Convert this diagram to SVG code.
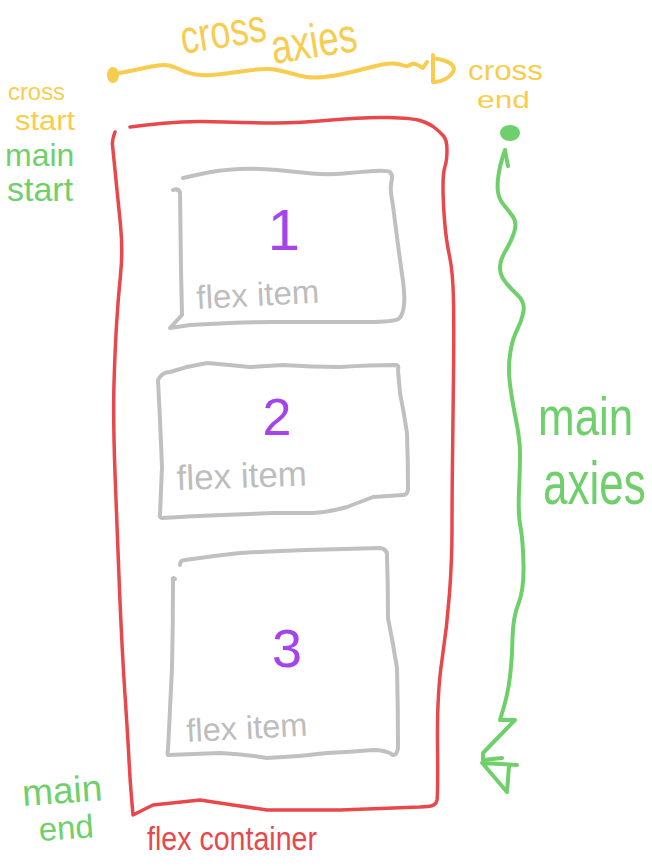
<svg xmlns="http://www.w3.org/2000/svg" width="652" height="866" viewBox="0 0 652 866">
<style>
.stroke{fill:none;stroke-linecap:round;stroke-linejoin:round}
.red{stroke:#e8484c;stroke-width:3.5}
.gray{stroke:#c0c0c0;stroke-width:4}
.green{stroke:#6fd06b;stroke-width:4}
.yellow{stroke:#f8cd4f;stroke-width:4}
text{font-family:"Liberation Sans","DejaVu Sans",sans-serif}
.ty{fill:#f8cd4f}
.tg{fill:#6fd06b}
.tr{fill:#e8484c}
.tgr{fill:#bdbdbd}
.tp{fill:#a544ec;text-anchor:middle}
</style>
<rect width="652" height="866" fill="#ffffff"/>

<g id="container">
<path class="stroke red" d="M130,127 L146.5,125 Q163,123 181.5,122 Q200,121 225,122 Q250,123 275,123 Q300,123 331.5,120 Q363,117 388,117.5 Q413,118 421.5,121 Q430,124 435,128 Q440,132 443.5,136 Q447,140 447,150 Q447,160 445,166.5 Q443,173 443,186.5 Q443,200 444.5,220 Q446,240 449.5,256 Q453,272 453.5,301 Q454,330 453.5,375 Q453,420 452.5,460 Q452,500 452,530 Q452,560 449.5,593.5 Q447,627 442,660 Q437,693 437.5,743 Q438,793 437,800 Q436,806 428,806.5 L420,807 Q380,808.5 340,810 L267,810 Q250,807.5 233,805 Q216.5,802.5 200,800 Q176.5,802.5 153,805 L133,815 L131.5,797.5 Q130,780 129,760 Q128,740 125,695 Q122,650 119.5,590 Q117,530 115,473.5 Q113,417 114,383.5 Q115,350 116.5,325 Q118,300 120.5,275 Q123,250 120.5,225 Q118,200 115.5,175 Q113,150 112.5,145 Q112,140 115,132"/>
<text class="tr" transform="translate(147,850) scale(1,1.15)" font-size="28.6">flex container</text>
</g>

<g id="item1">
<path class="stroke gray" d="M183,178 L194,175.5 Q205,173 214,171.5 Q223,170 240,169 Q257,168 277,170 Q297,172 312,173.5 Q327,175 343.5,173.5 Q360,172 373.5,171 Q387,170 390,172 Q393,175 391.5,181.5 Q390,188 391.5,196.5 Q393,205 394,213.5 Q395,222 397.5,241 Q400,260 402.5,277.5 Q405,295 404,305 Q403,315 399,318.5 Q395,322 367.5,322 L273,322 Q250,322 230,323 L190,325 L170,328 L182,315 L181,270 L180,192 Q178,188 173,190"/>
<text class="tp" x="284" y="250" font-size="58">1</text>
<text class="tgr" transform="translate(197,309) rotate(-3)" font-size="33">flex item</text>
</g>

<g id="item2">
<path class="stroke gray" d="M158,380 Q162,372 170,372 Q188,366 207,363 Q230,365 250,367 Q266,366 283,365 Q312,367 340,367 Q370,365 397,365 Q399,366 398,370 Q399,382 400,393 Q404,413 407,433 Q408,462 408,490 Q407,495 403,495 L373,497 Q360,502 347,507 Q330,512 313,513 Q293,513 273,513 Q248,514 223,515 Q192,516 162,518 Q159,517 160,515 Q161,491 162,467 Q161,443 160,420 Q159,400 158,380"/>
<text class="tp" x="277" y="435" font-size="52">2</text>
<text class="tgr" transform="translate(177,490) rotate(-2)" font-size="35">flex item</text>
</g>

<g id="item3">
<path class="stroke gray" d="M180,565 Q180,560 185,560 Q212,556 240,553 Q274,551 307,550 Q344,549 380,548 Q387,549 387,555 Q388,587 388,618 Q393,643 397,668 Q398,708 398,748 Q397,755 393,755 Q386,750 373,750 Q350,752 327,753 Q297,757 267,758 Q243,754 220,753 Q194,754 168,755 Q167,754 168,750 Q170,710 172,668 Q173,625 173,582 Q172,576 175,579"/>
<text class="tp" x="287" y="667" font-size="54">3</text>
<text class="tgr" transform="translate(187,742) rotate(-3)" font-size="32.5">flex item</text>
</g>

<g id="connectors">
<g id="cross-axis">
<ellipse cx="113" cy="75" rx="6" ry="8" fill="#f8cd4f"/>
<path class="stroke yellow" d="M120,73 L130,71 Q140,69 151.5,66.5 Q163,64 169,65.5 Q175,67 181,70 Q187,73 196,74.5 Q205,76 217.5,74.5 Q230,73 248.5,70.5 Q267,68 277,70 Q287,72 293.5,74 Q300,76 306.5,77 Q313,78 324,77 Q335,76 347.5,73 Q360,70 373.5,66.5 Q387,63 393.5,63.5 Q400,64 403.5,65.5 Q407,67 410,65 Q413,63 416.5,64.5 Q420,66 423,68 L427,62"/>
<path class="stroke yellow" d="M433,55 L433,82 M433,58 Q458,62 453,72 Q447,81 435,82"/>
</g>
<g id="main-axis">
<ellipse cx="510" cy="133" rx="10" ry="8" fill="#6fd06b"/>
<path class="stroke green" d="M505,150 L502.5,157.5 Q500,165 498.5,175 Q497,185 498,192 Q499,199 503.5,204.5 Q508,210 512.5,216 Q517,222 514.5,231 Q512,240 506,250 Q500,260 500,267.5 Q500,275 505,281.5 Q510,288 517.5,295 Q525,302 523.5,311 Q522,320 517,330 Q512,340 510,354.5 Q508,369 510,384.5 Q512,400 516,420 Q520,440 520,453.5 Q520,467 519,490.5 Q518,514 520.5,527 Q523,540 523.5,565 Q524,590 518.5,603.5 Q513,617 512.5,638.5 Q512,660 510,676.5 Q508,693 504,706.5 L500,720 L515,720 L483,753 L483,760 L502,758"/>
<path class="stroke green" d="M505,151 L508,166"/>
<path class="stroke green" d="M482,763 L517,765 M509,766 L507,792 L484,765"/>
</g>
</g>

<g id="labels">
<text class="ty" transform="translate(183,54) rotate(-9) scale(1,1.3)" font-size="36"><tspan x="0" y="0">cross</tspan><tspan x="88" y="18.5" font-size="37">axies</tspan></text>
<text class="ty"><tspan x="468" y="80" font-size="28" textLength="75" lengthAdjust="spacingAndGlyphs">cross</tspan><tspan x="477" y="108" font-size="24" textLength="53" lengthAdjust="spacingAndGlyphs">end</tspan></text>
<text class="ty"><tspan x="8" y="100" font-size="24" textLength="57" lengthAdjust="spacingAndGlyphs">cross</tspan><tspan x="15" y="130" font-size="27" textLength="60" lengthAdjust="spacingAndGlyphs">start</tspan></text>
<text class="tg"><tspan x="5" y="166" font-size="32">main</tspan><tspan x="7" y="201" font-size="34">start</tspan></text>
<text class="tg" transform="translate(538,435) scale(1,1.2)" font-size="44">main</text>
<text class="tg" transform="translate(543,504) scale(1,1.4)" font-size="44">axies</text>
<text class="tg" transform="rotate(-4,23,806)"><tspan x="23" y="806" font-size="37">main</tspan><tspan x="37" y="842" font-size="33">end</tspan></text>
</g>
</svg>
